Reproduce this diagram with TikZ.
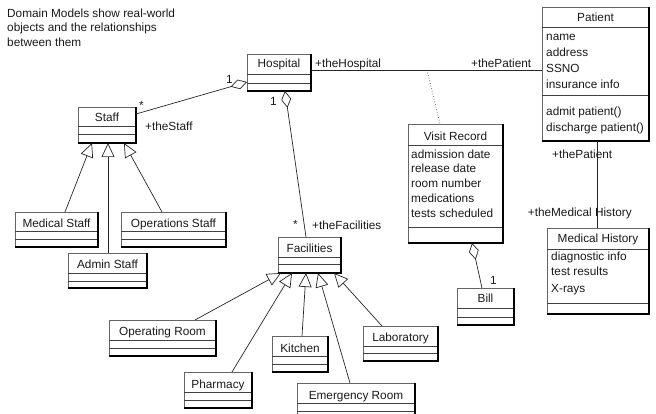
\documentclass[tikz,border=0pt]{standalone}
\usepackage{fontspec}
\setmainfont{Liberation Sans}
\usetikzlibrary{arrows.meta,calc}
\newcommand{\umlcls}[6]{%
  \node[box, minimum width=#4pt, minimum height=#5pt] (#1) at (#2,#3) {};
  \foreach \s in {#6} {\draw[sepline] ($(#1.north west)+(0,\s)$) -- ($(#1.north east)+(0,\s)$);}
  \draw[edgeline] (#1.north east) -- (#1.south east) -- (#1.south west);
}
\begin{document}
\begin{tikzpicture}[x=1pt,y=-1pt,
  box/.style={draw=black!60, line width=0.6pt, inner sep=0pt, outer sep=0pt, anchor=north west},
  sepline/.style={draw=black!75, line width=0.7pt},
  edgeline/.style={draw=black, line width=1.5pt},
  txt/.style={inner sep=0pt, font=\fontsize{11.8}{14}\selectfont, text=black!90},
  ttl/.style={txt, anchor=base},
  attr/.style={txt, anchor=base west},
  conn/.style={draw=black!85, line width=0.7pt},
  agg/.style={conn, -{Diamond[open, length=17pt, width=10pt, line width=0.7pt]}},
  gen/.style={conn, -{Triangle[open, length=14pt, width=13pt, line width=0.7pt]}},
]
\useasboundingbox (0,0) rectangle (656,414);
\clip (0,0) rectangle (656,414);

% intro text
\node[attr] (intro1) at (7,18) {Domain Models show real-world};
\node[attr] (intro2) at (7,32) {objects and the relationships};
\node[attr] (intro3) at (7,47) {between them};

% classes
\umlcls{hosp}{247}{54}{64}{37}{20,29}
\umlcls{staff}{78}{107}{58}{36}{19,27}
\umlcls{pat}{542}{7}{107}{134}{20,88}
\umlcls{vr}{408}{124}{95}{119}{21,103}
\umlcls{mh}{547}{228}{102}{86}{21,75}
\umlcls{bill}{457}{288}{57}{37}{20,29}
\umlcls{fac}{278}{237}{63}{36}{20,27}
\umlcls{meds}{15}{212}{83}{35}{19,27}
\umlcls{ops}{121}{212}{105}{35}{19,27}
\umlcls{adm}{68}{253}{79}{35}{20,28}
\umlcls{orm}{109}{320}{107}{36}{20,28}
\umlcls{pha}{184}{372}{68}{36}{20,28}
\umlcls{kit}{272}{336}{56}{36}{20,28}
\umlcls{lab}{363}{326}{75}{35}{20,27}
\umlcls{er}{297}{383}{118}{36}{20,28}

% titles
\node[ttl] (hospT) at (279,68) {Hospital};
\node[ttl] (staffT) at (107,122) {Staff};
\node[ttl] (patT) at (595.5,22) {Patient};
\node[ttl] (vrT) at (455.5,141) {Visit Record};
\node[ttl] (mhT) at (598,243) {Medical History};
\node[ttl] (billT) at (485.5,302) {Bill};
\node[ttl] (facT) at (309.5,252) {Facilities};
\node[ttl] (medsT) at (56.5,228) {Medical Staff};
\node[ttl] (opsT) at (173.5,228) {Operations Staff};
\node[ttl] (admT) at (107.5,269) {Admin Staff};
\node[ttl] (ormT) at (162.5,335) {Operating Room};
\node[ttl] (phaT) at (218,388) {Pharmacy};
\node[ttl] (kitT) at (300,352) {Kitchen};
\node[ttl] (labT) at (400.5,341) {Laboratory};
\node[ttl] (erT) at (356,399) {Emergency Room};

% attributes
\node[attr] (p1) at (546,41) {name};
\node[attr] (p2) at (546,57) {address};
\node[attr] (p3) at (546,73) {SSNO};
\node[attr] (p4) at (546,89) {insurance info};
\node[attr] (p5) at (546,116) {admit patient()};
\node[attr] (p6) at (546,132) {discharge patient()};
\node[attr] (v1) at (411,159) {admission date};
\node[attr] (v2) at (411,173) {release date};
\node[attr] (v3) at (411,188) {room number};
\node[attr] (v4) at (411,203) {medications};
\node[attr] (v5) at (411,218) {tests scheduled};
\node[attr] (m1) at (551,260) {diagnostic info};
\node[attr] (m2) at (551,276) {test results};
\node[attr] (m3) at (551,292) {X-rays};

% connector end points
\coordinate (assoc) at (427,70);

% associations / aggregations
\draw[agg] ($(staff.north east)+(0,7)$) -- ($(hosp.north west)+(0,28)$);
\draw[agg] ($(fac.north west)+(28,0)$) -- ($(hosp.south west)+(38,0)$);
\draw[agg] ($(bill.north west)+(25,0)$) -- ($(vr.south west)+(64,0)$);
\draw[conn] ($(hosp.north east)+(0,16)$) -- ($(pat.north west)+(0,63)$);
\draw[conn, dotted, draw=black!70] (assoc) -- ($(vr.north west)+(32,0)$);
\draw[conn] ($(pat.south west)+(55,0)$) -- ($(mh.north west)+(50,0)$);

% generalizations
\draw[gen] ($(meds.north west)+(50,0)$) -- ($(staff.south west)+(14,0)$);
\draw[gen] ($(adm.north west)+(40,0)$) -- ($(staff.south west)+(30,0)$);
\draw[gen] ($(ops.north west)+(41,0)$) -- ($(staff.south west)+(46,0)$);
\draw[gen] ($(orm.north west)+(86,0)$) -- ($(fac.south west)+(3,0)$);
\draw[gen] ($(pha.north west)+(48,0)$) -- ($(fac.south west)+(14,0)$);
\draw[gen] ($(kit.north west)+(30,0)$) -- ($(fac.south west)+(28,0)$);
\draw[gen] ($(er.north west)+(53,0)$) -- ($(fac.south west)+(40,0)$);
\draw[gen] ($(lab.north west)+(19,0)$) -- ($(fac.south west)+(56,0)$);

% labels
\node[attr] (l1) at (226,84) {1};
\node[attr] (l2) at (139,110) {*};
\node[attr] (l3) at (145,131) {+theStaff};
\node[attr] (l4) at (270,106) {1};
\node[attr] (l5) at (293,229) {*};
\node[attr] (l6) at (312,230) {+theFacilities};
\node[attr] (l7) at (315,68) {+theHospital};
\node[attr] (l8) at (471,68) {+thePatient};
\node[attr] (l9) at (552,159) {+thePatient};
\node[txt, anchor=base east] (l10) at (632,217) {+theMedical History};
\node[attr] (l11) at (490,284) {1};
\end{tikzpicture}
\end{document}
